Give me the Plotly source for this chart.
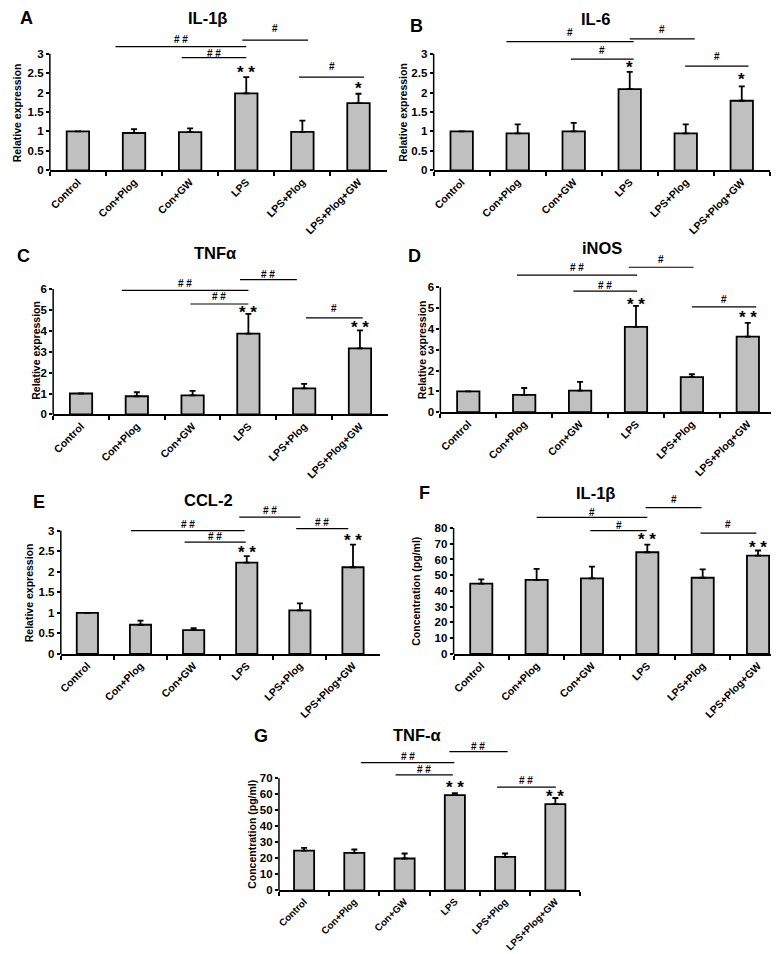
import plotly.graph_objects as go

categories = ["Control", "Con+Plog", "Con+GW", "LPS", "LPS+Plog", "LPS+Plog+GW"]

# Panel A: IL-1β relative expression
a_values = [1.0, 0.96, 0.98, 1.98, 0.99, 1.73]
a_errors = [0.0, 0.10, 0.10, 0.42, 0.29, 0.24]
a_brackets = [(0.67, 3.0, 3.18, 3.36, "# #"), (1.85, 3.0, 2.90, 3.00, "# #"),
              (2.93, 4.1, 3.35, 3.65, "#"), (3.94, 5.1, 2.40, 2.68, "#")]
a_stars = [(3, 2.60, "* *"), (5, 2.17, "*")]

# Panel B: IL-6 relative expression
b_values = [1.0, 0.95, 1.0, 2.09, 0.95, 1.79]
b_errors = [0.0, 0.23, 0.22, 0.44, 0.23, 0.37]
b_brackets = [(0.8, 3.07, 3.31, 3.54, "#"), (1.95, 3.07, 2.86, 3.08, "#"),
              (3.0, 4.16, 3.38, 3.62, "#"), (3.99, 5.12, 2.68, 2.93, "#")]
b_stars = [(3, 2.73, "*"), (5, 2.41, "*")]

# Panel C: TNFα relative expression
c_values = [1.0, 0.87, 0.91, 3.86, 1.25, 3.16]
c_errors = [0.0, 0.19, 0.22, 0.95, 0.21, 0.86]
c_brackets = [(0.73, 3.0, 5.93, 6.28, "# #"), (1.96, 3.0, 5.28, 5.62, "# #"),
              (2.85, 3.87, 6.44, 6.70, "# #"), (4.03, 5.05, 4.62, 5.05, "#")]
c_stars = [(3, 5.02, "* *"), (5, 4.30, "* *")]

# Panel D: iNOS relative expression
d_values = [1.0, 0.83, 1.03, 4.10, 1.68, 3.63]
d_errors = [0.0, 0.33, 0.42, 1.00, 0.14, 0.66]
d_brackets = [(0.87, 3.02, 6.58, 6.96, "# #"), (1.88, 3.02, 5.81, 6.10, "# #"),
              (2.87, 4.03, 6.96, 7.32, "#"), (4.0, 5.15, 5.06, 5.41, "#")]
d_stars = [(3, 5.33, "* *"), (5, 4.67, "* *")]

# Panel E: CCL-2 relative expression
e_values = [1.0, 0.71, 0.58, 2.22, 1.06, 2.11]
e_errors = [0.0, 0.10, 0.05, 0.16, 0.17, 0.55]
e_brackets = [(0.82, 2.96, 3.00, 3.15, "# #"), (1.83, 2.98, 2.72, 2.85, "# #"),
              (2.86, 4.01, 3.33, 3.48, "# #"), (3.93, 4.91, 3.05, 3.21, "# #")]
e_stars = [(3, 2.54, "* *"), (5, 2.84, "* *")]

# Panel F: IL-1β concentration (pg/ml)
f_values = [44.6, 47.0, 48.0, 64.6, 48.4, 62.5]
f_errors = [2.8, 7.0, 7.4, 4.9, 5.3, 3.2]
f_brackets = [(1.0, 3.0, 86.7, 90.1, "#"), (1.97, 2.99, 78.3, 81.7, "#"),
              (2.97, 3.98, 93.0, 97.9, "#"), (3.96, 4.97, 76.8, 82.1, "#")]
f_stars = [(3, 74.7, "* *"), (5, 69.5, "* *")]

# Panel G: TNF-α concentration (pg/ml)
g_values = [24.8, 23.4, 19.9, 59.4, 20.9, 53.8]
g_errors = [1.7, 2.1, 3.1, 1.3, 2.1, 3.8]
g_brackets = [(1.13, 2.99, 79.7, 83.4, "# #"), (1.82, 2.96, 72.0, 75.2, "# #"),
              (2.89, 4.05, 86.5, 89.6, "# #"), (3.84, 5.01, 64.4, 68.3, "# #")]
g_stars = [(3, 65.8, "* *"), (5, 60.7, "* *")]

W, H = 779, 954
FONT = "Liberation Sans, Arial, sans-serif"

# geometry (pixels): left, right, zero-line y, top-tick y, max tick, step, range top
panels = [
    dict(v=a_values, e=a_errors, br=a_brackets, st=a_stars, left=39, right=377, y0=163.3, yt=46,
         mx=3, step=0.5, top=3.8, title="IL-1β", tpos=(197, 10), letter="A", lpos=(16, 10),
         ytitle="Relative expression", ypos=(6, 105), xfs=10.5),
    dict(v=b_values, e=b_errors, br=b_brackets, st=b_stars, left=424.3, right=761.7, y0=163.3, yt=46,
         mx=3, step=0.5, top=3.8, title="IL-6", tpos=(587, 11), letter="B", lpos=(407, 18),
         ytitle="Relative expression", ypos=(394, 105), xfs=10.5),
    dict(v=c_values, e=c_errors, br=c_brackets, st=c_stars, left=42.3, right=378.3, y0=409, yt=282.7,
         mx=6, step=1, top=7.1, title="TNFα", tpos=(205, 247), letter="C", lpos=(13, 250),
         ytitle="Relative expression", ypos=(25, 344), xfs=10.5),
    dict(v=d_values, e=d_errors, br=d_brackets, st=d_stars, left=431, right=767.7, y0=406.7, yt=281,
         mx=6, step=1, top=7.7, title="iNOS", tpos=(593, 242), letter="D", lpos=(405, 250),
         ytitle="Relative expression", ypos=(412, 344), xfs=10.5),
    dict(v=e_values, e=e_errors, br=e_brackets, st=e_stars, left=50, right=370, y0=650, yt=526,
         mx=3, step=0.5, top=3.65, title="CCL-2", tpos=(198, 495), letter="E", lpos=(28, 497),
         ytitle="Relative expression", ypos=(18, 588), xfs=10.5),
    dict(v=f_values, e=f_errors, br=f_brackets, st=f_stars, left=444.3, right=777.7, y0=650, yt=523.3,
         mx=80, step=10, top=103, title="IL-1β", tpos=(587, 488), letter="F", lpos=(415, 488),
         ytitle="Concentration (pg/ml)", ypos=(407, 587), xfs=10.5),
    dict(v=g_values, e=g_errors, br=g_brackets, st=g_stars, left=269, right=571.7, y0=888, yt=775,
         mx=70, step=10, top=94, title="TNF-α", tpos=(408, 732), letter="G", lpos=(251, 733),
         ytitle="Concentration (pg/ml)", ypos=(242, 832), xfs=9.8),
]

fig = go.Figure()
shapes, annotations = [], []
layout = {}


def fmt(v):
    return str(int(v)) if abs(v - round(v)) < 1e-9 else ("%g" % v)


for i, p in enumerate(panels, start=1):
    xa = "x" if i == 1 else f"x{i}"
    ya = "y" if i == 1 else f"y{i}"
    xkey = "xaxis" if i == 1 else f"xaxis{i}"
    ykey = "yaxis" if i == 1 else f"yaxis{i}"
    ppu = (p["y0"] - p["yt"]) / p["mx"]
    top_px = p["y0"] - p["top"] * ppu
    ydom = [1 - p["y0"] / H, 1 - top_px / H]
    xdom = [p["left"] / W, p["right"] / W]

    fig.add_trace(go.Bar(
        x=categories, y=p["v"], width=0.4, xaxis=xa, yaxis=ya,
        marker=dict(color="#C0C0C0", line=dict(color="black", width=1.8)),
        error_y=dict(type="data", symmetric=False, array=p["e"], arrayminus=[0] * len(p["e"]),
                     color="black", thickness=1.8, width=3),
        showlegend=False, hoverinfo="skip"))

    n = int(round(p["mx"] / p["step"]))
    tv = [k * p["step"] for k in range(n + 1)]
    layout[xkey] = dict(domain=xdom, anchor=ya, type="category", range=[-0.5, 5.5],
                        tickson="boundaries", ticks="outside", ticklen=4, tickwidth=1.5,
                        tickcolor="black", showline=True, linecolor="black", linewidth=1.5,
                        tickangle=-45, showgrid=False, zeroline=False,
                        tickfont=dict(family=FONT, size=p["xfs"], color="black", weight="bold"))
    layout[ykey] = dict(domain=ydom, anchor=xa, range=[0, p["top"]], tickvals=tv,
                        ticktext=[fmt(t) for t in tv], ticks="outside", ticklen=3, tickwidth=1.5,
                        tickcolor="black", showline=False, showgrid=False, zeroline=False,
                        tickfont=dict(family=FONT, size=11.5, color="black", weight="bold"))

    # y axis line up to the top tick only
    shapes.append(dict(type="line", xref=f"{xa} domain", yref=f"{ya} domain",
                       x0=0, x1=0, y0=0, y1=p["mx"] / p["top"],
                       line=dict(color="black", width=1.5)))

    for (x0, x1, yl, ytx, lab) in p["br"]:
        shapes.append(dict(type="line", xref=xa, yref=ya, x0=x0, x1=x1, y0=yl, y1=yl,
                           line=dict(color="black", width=1.2)))
        annotations.append(dict(xref=xa, yref=ya, x=(x0 + x1) / 2, y=ytx, text=lab,
                                showarrow=False, yanchor="middle",
                                font=dict(family=FONT, size=10, color="black", weight="bold")))
    for (ci, ys, lab) in p["st"]:
        annotations.append(dict(xref=xa, yref=ya, x=ci, y=ys, text=lab, showarrow=False,
                                yanchor="middle", yshift=-3,
                                font=dict(family=FONT, size=17, color="black", weight="bold")))

    annotations.append(dict(xref="paper", yref="paper", x=p["tpos"][0] / W, y=1 - p["tpos"][1] / H,
                            text=p["title"], showarrow=False, xanchor="center", yanchor="middle",
                            font=dict(family=FONT, size=16.5, color="black", weight="bold")))
    annotations.append(dict(xref="paper", yref="paper", x=p["lpos"][0] / W, y=1 - p["lpos"][1] / H,
                            text=p["letter"], showarrow=False, xanchor="center", yanchor="middle",
                            font=dict(family=FONT, size=18, color="black", weight="bold")))
    annotations.append(dict(xref="paper", yref="paper", x=p["ypos"][0] / W, y=1 - p["ypos"][1] / H,
                            text=p["ytitle"], showarrow=False, xanchor="center", yanchor="middle",
                            textangle=-90,
                            font=dict(family=FONT, size=10.5, color="black", weight="bold")))

fig.update_layout(width=W, height=H, margin=dict(l=0, r=0, t=0, b=0),
                  paper_bgcolor="white", plot_bgcolor="white", bargap=0.6,
                  shapes=shapes, annotations=annotations, **layout)

fig.write_html("out.html")
